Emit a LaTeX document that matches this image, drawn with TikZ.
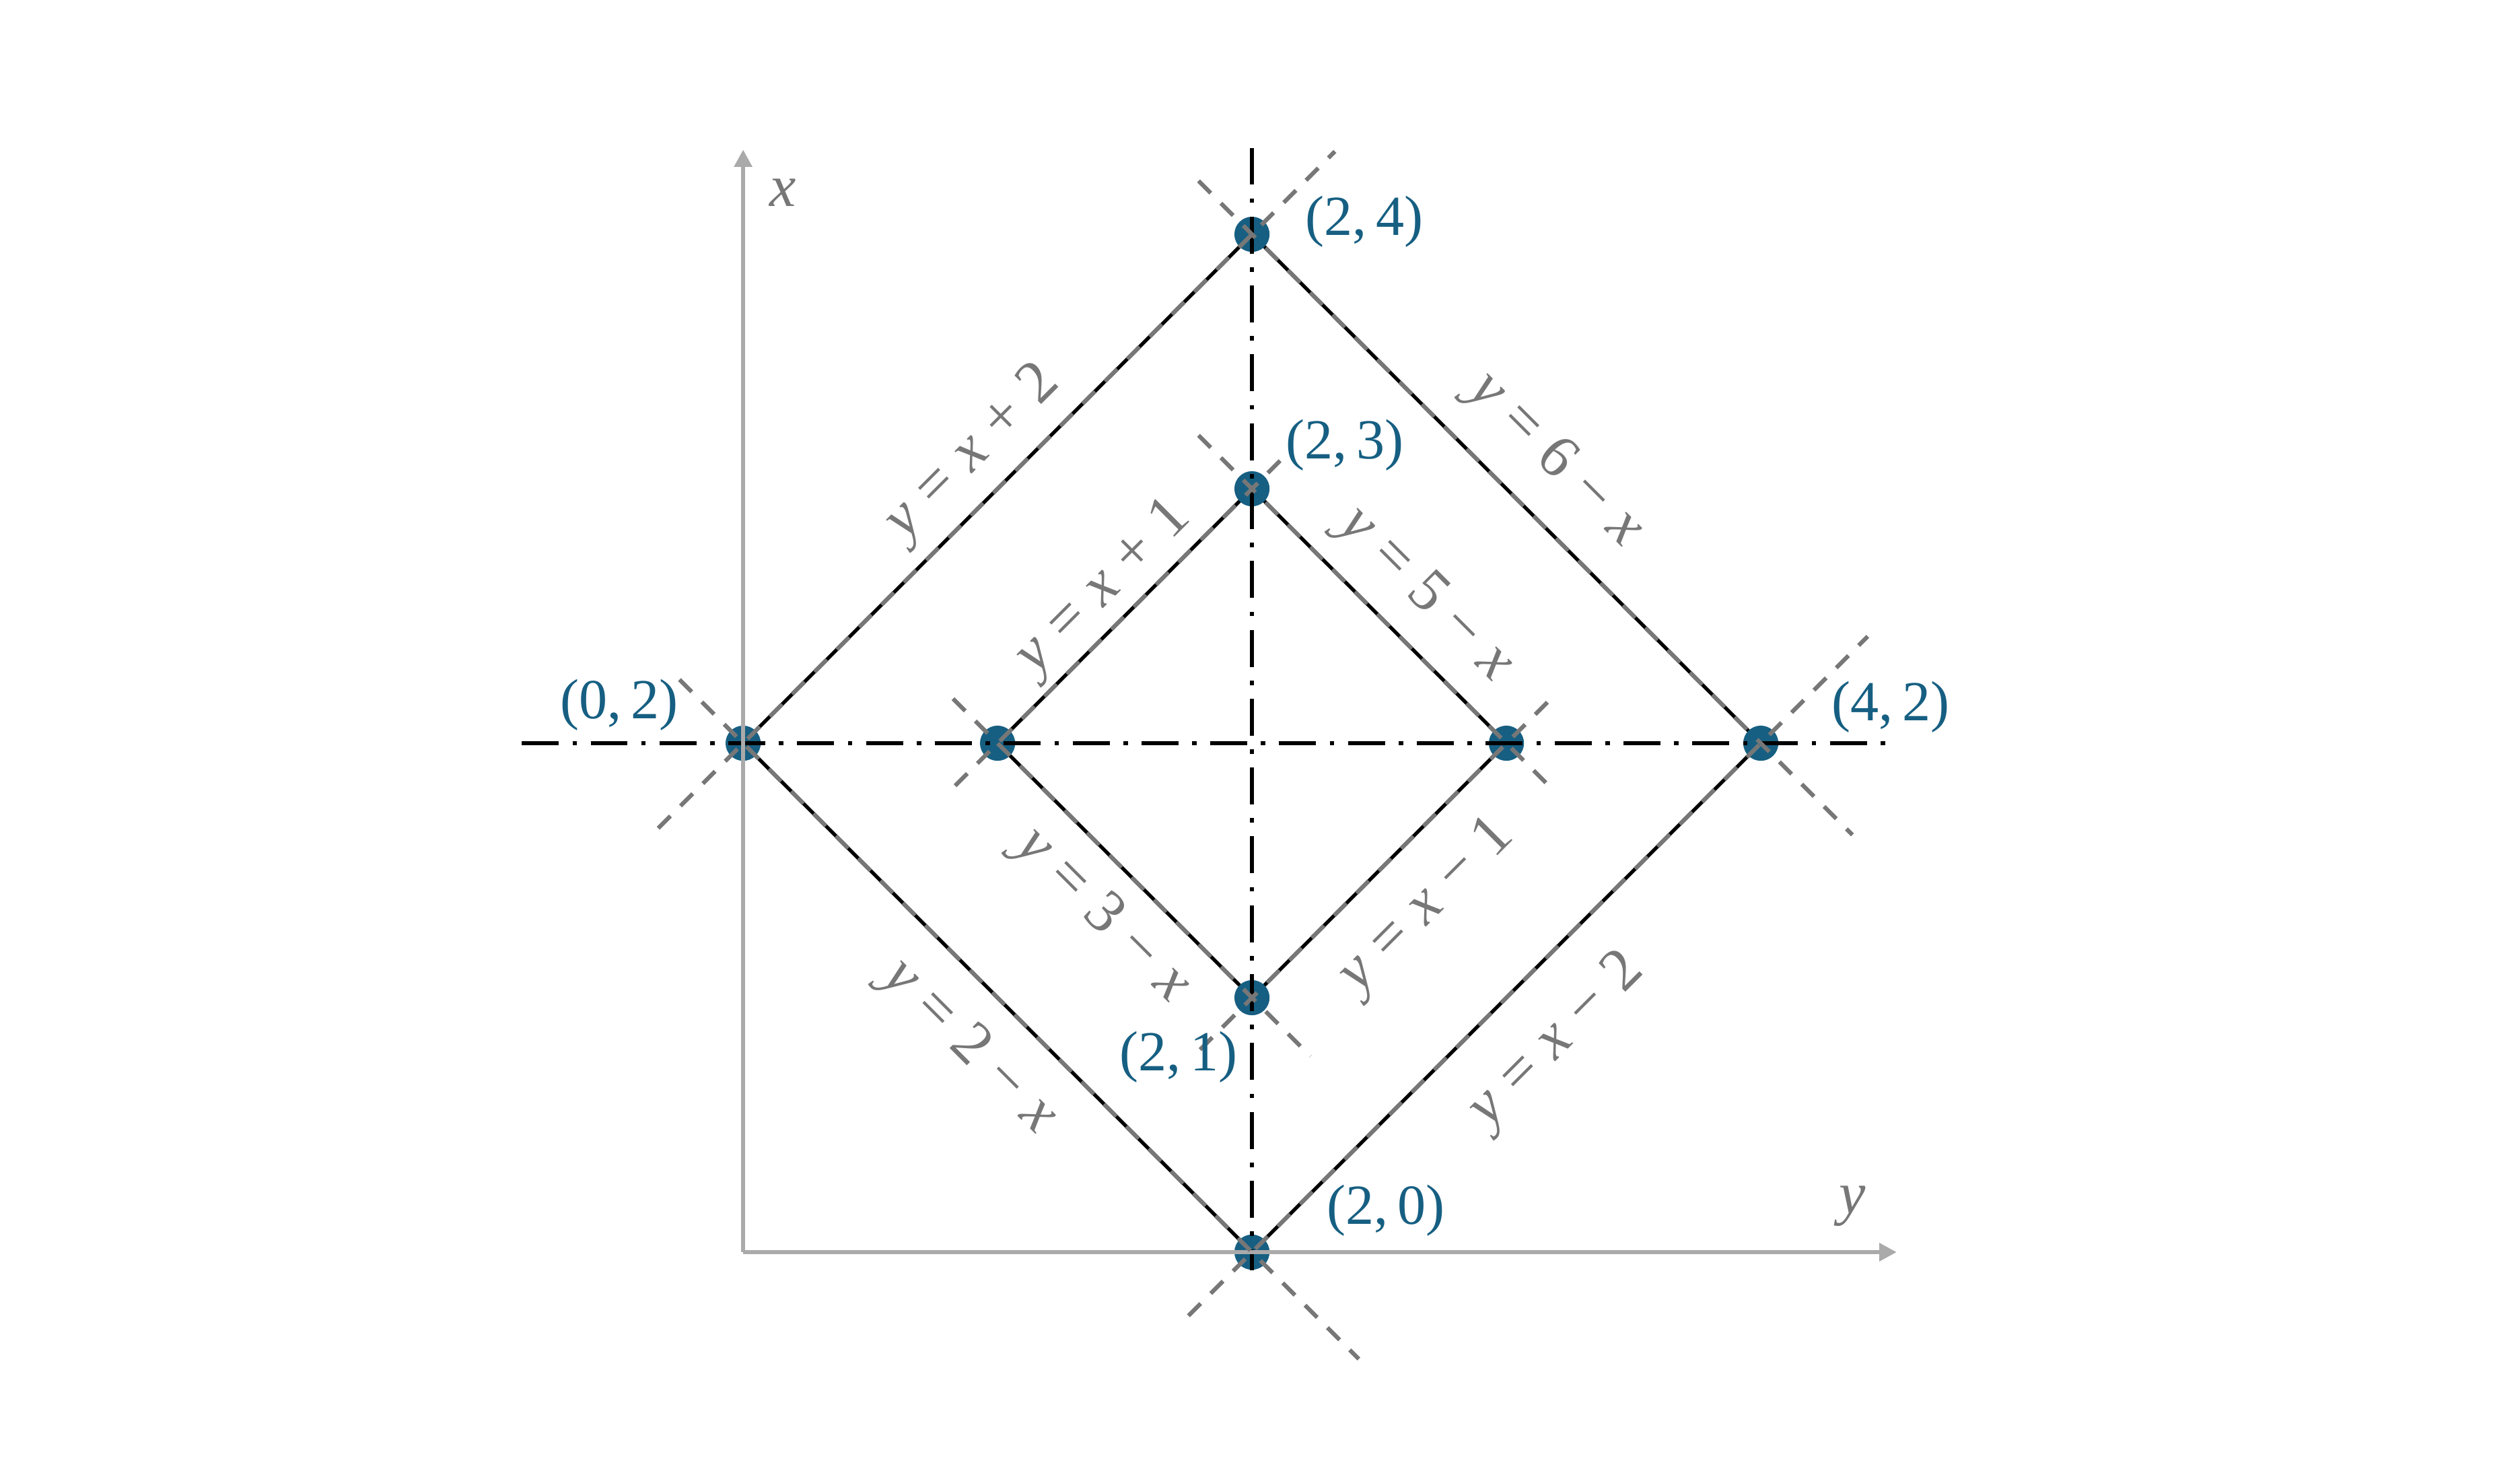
\documentclass[tikz,border=0pt]{standalone}
\usepackage{fontspec}
\setmainfont{Liberation Serif}
\usetikzlibrary{arrows.meta,calc}

\definecolor{ptblue}{RGB}{22,95,130}
\definecolor{guidegray}{RGB}{119,119,119}
\definecolor{axisgray}{RGB}{170,170,170}

\newcommand{\vx}{\textit{x}}
\newcommand{\vy}{\textit{y}}
\newcommand{\rel}{\hspace{0.28em}}

\begin{document}
\begin{tikzpicture}[
    x=1.5cm, y=1.5cm,
    font=\fontsize{9.5}{11}\selectfont,
    axis/.style={axisgray, line width=0.75pt, -{Triangle[length=2.9pt,width=2.9pt]}},
    axislabel/.style={text=guidegray, font=\fontsize{10}{12}\selectfont},
    edge/.style={black, line width=0.6pt},
    guide/.style={guidegray, line width=0.7pt, dash pattern=on 2.9pt off 2.4pt},
    symline/.style={black, line width=0.7pt, dash pattern=on 6.2pt off 2.3pt on 0.75pt off 2.3pt},
    dot/.style={circle, fill=ptblue, inner sep=0pt, minimum size=5.9pt},
    ptlabel/.style={text=ptblue},
    eqlabel/.style={text=guidegray, font=\fontsize{10.2}{12}\selectfont}
  ]

  \useasboundingbox (-2.921,-0.899) rectangle (6.984,4.921);

  % Vertices
  \coordinate (o) at (0,0);
  \coordinate (v02) at (0,2);
  \coordinate (v24) at (2,4);
  \coordinate (v42) at (4,2);
  \coordinate (v20) at (2,0);
  \coordinate (v12) at (1,2);
  \coordinate (v23) at (2,3);
  \coordinate (v32) at (3,2);
  \coordinate (v21) at (2,1);

  % Diamonds
  \draw[edge] (v02) -- (v24) -- (v42) -- (v20) -- cycle;
  \draw[edge] (v12) -- (v23) -- (v32) -- (v21) -- cycle;

  % Points
  \foreach \p in {02,12,32,42,20,21,23,24}
    \node[dot] (d\p) at (v\p) {};

  % Symmetry lines
  \coordinate (hl) at (-0.87,2);
  \coordinate (hr) at (4.53,2);
  \coordinate (vt) at (2,4.34);
  \coordinate (vb) at (2,-0.07);
  \draw[symline] (hl) -- (hr);
  \draw[symline] (vt) -- (vb);

  % Axes
  \coordinate (xend) at (0,4.333);
  \coordinate (yend) at (4.534,0);
  \draw[axis] (o) -- (xend);
  \draw[axis] (o) -- (yend);
  \node[axislabel] (xlbl) at (0.156,4.164) {\vx};
  \node[axislabel] (ylbl) at (4.36,0.18) {\vy};

  % Guide lines
  \draw[guide] ($(v02)!-0.167!(v24)$) -- ($(v02)!1.163!(v24)$);
  \draw[guide] ($(v24)!-0.105!(v42)$) -- ($(v24)!1.18!(v42)$);
  \draw[guide] ($(v02)!-0.125!(v20)$) -- ($(v02)!1.21!(v20)$);
  \draw[guide] ($(v20)!-0.125!(v42)$) -- ($(v20)!1.21!(v42)$);
  \draw[guide] ($(v12)!-0.167!(v23)$) -- ($(v12)!1.15!(v23)$);
  \draw[guide] ($(v23)!-0.21!(v32)$) -- ($(v23)!1.193!(v32)$);
  \draw[guide] ($(v12)!-0.175!(v21)$) -- ($(v12)!1.23!(v21)$);
  \draw[guide] ($(v21)!-0.204!(v32)$) -- ($(v21)!1.198!(v32)$);

  % Line labels
  \node[eqlabel, rotate=45]  (e1) at (0.905,3.14)  {\vy\rel=\rel\vx\rel+\rel2};
  \node[eqlabel, rotate=-45] (e2) at (3.19,3.11)   {\vy\rel=\rel6\rel−\rel\vx};
  \node[eqlabel, rotate=45]  (e3) at (1.42,2.61)   {\vy\rel=\rel\vx\rel+\rel1};
  \node[eqlabel, rotate=-45] (e4) at (2.68,2.58)   {\vy\rel=\rel5\rel−\rel\vx};
  \node[eqlabel, rotate=-45] (e5) at (1.41,1.32)   {\vy\rel=\rel3\rel−\rel\vx};
  \node[eqlabel, rotate=45]  (e6) at (2.69,1.36)   {\vy\rel=\rel\vx\rel−\rel1};
  \node[eqlabel, rotate=-45] (e7) at (0.886,0.804) {\vy\rel=\rel2\rel−\rel\vx};
  \node[eqlabel, rotate=45]  (e8) at (3.20,0.83)   {\vy\rel=\rel\vx\rel−\rel2};

  % Point labels
  \node[ptlabel] (p24) at (2.442,4.05)   {(2,\,4)};
  \node[ptlabel] (p23) at (2.365,3.172)  {(2,\,3)};
  \node[ptlabel] (p02) at (-0.487,2.151) {(0,\,2)};
  \node[ptlabel] (p42) at (4.51,2.143)   {(4,\,2)};
  \node[ptlabel] (p21) at (1.712,0.767)  {(2,\,1)};
  \node[ptlabel] (p20) at (2.527,0.164)  {(2,\,0)};

\end{tikzpicture}
\end{document}
